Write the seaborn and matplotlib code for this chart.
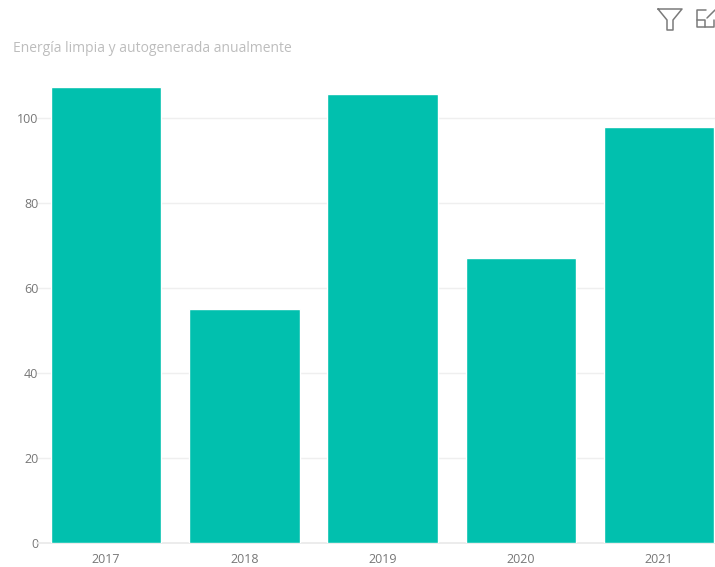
import matplotlib
matplotlib.use("Agg")
import matplotlib.pyplot as plt
import pandas as pd
import seaborn as sns

years = ["2017", "2018", "2019", "2020", "2021"]
energy = [107.4, 55.2, 105.8, 67.0, 98.0]
y_ticks = [0, 20, 40, 60, 80, 100]
title_text = "Energía limpia y autogenerada anualmente"

W, H = 715, 567
sns.set_theme(style="white")
plt.rcParams["font.family"] = ["Open Sans", "DejaVu Sans"]

fig = plt.figure(figsize=(W / 100, H / 100), dpi=100, facecolor="white")
ax = fig.add_axes([37 / W, 1 - 543 / H, (W - 37) / W, (543 - 75) / H])

df = pd.DataFrame({"year": years, "energy": energy})
sns.barplot(data=df, x="year", y="energy", color="#01C0AE", saturation=1,
            width=0.8, ax=ax, zorder=3)

ax.set_xlim(-0.5, 4.405)
ax.set_ylim(0, 110.2)
ax.set_yticks(y_ticks)
ax.set_xlabel("")
ax.set_ylabel("")
ax.grid(axis="y", color="#EFEFEF", linewidth=1, zorder=0)
ax.set_axisbelow(True)
sns.despine(ax=ax, left=True, right=True, top=True, bottom=False)
ax.spines["bottom"].set_color("#EAEAEA")
ax.tick_params(axis="both", length=0, labelsize=9, labelcolor="#777777")
ax.tick_params(axis="x", pad=7)
ax.tick_params(axis="y", pad=-1)

fig.text(13 / W, 1 - 48 / H, title_text, fontsize=10, color="#BDBDBD",
         ha="left", va="center")

# Visual header icons: funnel and focus-mode frame
icon = "#7A7A7A"
px = lambda x, y: (x / W, 1 - y / H)
funnel = [(658, 9), (682, 9), (673, 20), (673, 30), (667, 30), (667, 20), (658, 9)]
fig.add_artist(plt.Line2D(*zip(*[px(*p) for p in funnel]), color=icon, lw=1.1))
frame = [(706, 10), (697, 10), (697, 27), (714, 27), (714, 20)]
fig.add_artist(plt.Line2D(*zip(*[px(*p) for p in frame]), color=icon, lw=1.1))
fig.add_artist(plt.Line2D(*zip(*[px(*p) for p in [(697, 20), (705, 20), (705, 27)]]), color=icon, lw=1.1))
fig.add_artist(plt.Line2D(*zip(*[px(*p) for p in [(707, 18), (715, 10)]]), color=icon, lw=1.1))

fig.savefig("out.png", dpi=100, facecolor="white")
